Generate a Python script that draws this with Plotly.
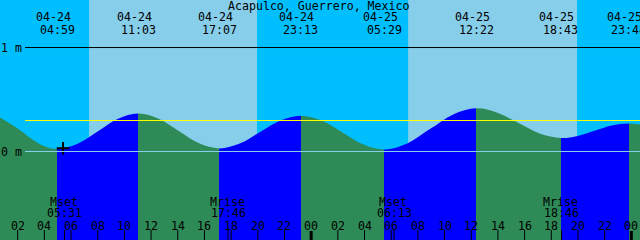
import plotly.graph_objects as go

# ---------------- data ----------------
station = "Acapulco, Guerrero, Mexico"
window_hours = [0.675, 48.65]          # hours since 04-24 00:00
level_range_m = [-0.851, 1.457]
day_labels = ["04-24", "04-25"]

# tide extremes
tide_dates = ["04-24", "04-24", "04-24", "04-24", "04-25", "04-25", "04-25", "04-25"]
tide_times = ["04:59", "11:03", "17:07", "23:13", "05:29", "12:22", "18:43", "23:48"]
tide_kinds = ["low", "high", "low", "high", "low", "high", "low", "high"]

# tide curve samples (hour, level m)
curve_hours = [0.675, 2.0, 3.0, 4.0, 4.983, 6.50, 8.02, 9.53, 11.05, 12.57, 14.08, 15.60,
               17.117, 18.65, 20.17, 21.70, 23.217, 24.79, 26.35, 27.92, 29.483, 31.20,
               32.93, 34.65, 36.367, 37.96, 39.55, 41.13, 42.717, 43.99, 45.26, 46.53,
               47.80, 48.65]
curve_levels = [0.327, 0.221, 0.125, 0.051, 0.025, 0.075, 0.195, 0.315, 0.365, 0.316, 0.198,
                0.079, 0.030, 0.076, 0.188, 0.299, 0.345, 0.298, 0.183, 0.068, 0.020, 0.078,
                0.218, 0.357, 0.415, 0.373, 0.273, 0.172, 0.130, 0.150, 0.200, 0.250,
                0.270, 0.259]

# daylight
sunrise_hours = [7.35, 31.27]
sunset_hours = [19.94, 43.93]

# moon events
moon_names = ["Mset", "Mrise", "Mset", "Mrise"]
moon_dates = ["04-24", "04-24", "04-25", "04-25"]
moon_times = ["05:31", "17:46", "06:13", "18:46"]

# reference levels
datum_level = 0.0
mean_level = 0.298
one_metre = 1.0
axis_labels = ["1 m", "0 m"]

# marker "+"
mark_hour = 5.4
mark_level = 0.031

# hour ticks
hour_ticks = list(range(2, 49, 2))
hour_tick_labels = ["%02d" % (h % 24) for h in hour_ticks]

# ---------------- helpers ----------------
W, H = 640, 240
FONT = "DejaVu Sans Mono"
FS = 11.6
NIGHT = "#00BFFF"
DAY = "#87CEEB"
FALL = "#2E8B57"
RISE = "#0000FF"


def to_hours(date, hhmm):
    day = day_labels.index(date)
    hh, mm = hhmm.split(":")
    return day * 24 + int(hh) + int(mm) / 60.0


tide_hours = [to_hours(d, t) for d, t in zip(tide_dates, tide_times)]
moon_hours = [to_hours(d, t) for d, t in zip(moon_dates, moon_times)]
t0, t1 = window_hours
span = t1 - t0


def hour_to_px(h):
    return (h - t0) / span * W


fig = go.Figure()

# main (invisible) subplot for shapes/annotations
fig.add_trace(go.Scatter(x=[t0], y=[0], mode="markers", marker=dict(opacity=0),
                         hoverinfo="skip", xaxis="x", yaxis="y"))

# water segments, each clipped by its own x-domain
bounds = [t0] + tide_hours + [t1]
layout_axes = {}
mark_axis = None
for i in range(len(bounds) - 1):
    ax = "x%d" % (i + 2)
    p0 = round(hour_to_px(bounds[i]))
    p1 = round(hour_to_px(bounds[i + 1]))
    d0, d1 = p0 / W, p1 / W
    # colour: rising if segment ends at a high
    if i < len(tide_kinds):
        col = RISE if tide_kinds[i] == "high" else FALL
    else:
        col = RISE if tide_kinds[-1] == "low" else FALL
    layout_axes["xaxis%d" % (i + 2)] = dict(domain=[d0, d1], range=[t0 + d0 * span, t0 + d1 * span],
                                            visible=False, anchor="y", fixedrange=True)
    fig.add_trace(go.Scatter(x=[t0, t1], y=[level_range_m[0] - 0.3] * 2, mode="lines",
                             line=dict(width=0), hoverinfo="skip", xaxis=ax, yaxis="y"))
    fig.add_trace(go.Scatter(x=curve_hours, y=curve_levels, mode="lines",
                             line=dict(width=0, shape="spline", color=col),
                             fill="tonexty", fillcolor=col, hoverinfo="skip",
                             xaxis=ax, yaxis="y"))
    if bounds[i] <= mark_hour < bounds[i + 1]:
        mark_axis = ax

fig.add_trace(go.Scatter(x=[mark_hour], y=[mark_level], mode="markers",
                         marker=dict(symbol="cross-thin", size=9, line=dict(width=2, color="black")),
                         cliponaxis=False, hoverinfo="skip", xaxis=mark_axis, yaxis="y"))

shapes = []
# daylight
for sr, ss in zip(sunrise_hours, sunset_hours):
    shapes.append(dict(type="rect", xref="x", yref="paper", x0=sr, x1=ss, y0=0, y1=1,
                       fillcolor=DAY, line=dict(width=0), layer="below"))
# level lines
line_x0 = 25 / W
for lvl, col in [(one_metre, "black"), (datum_level, DAY), (mean_level, "#FFFF00")]:
    shapes.append(dict(type="line", xref="paper", yref="y", x0=line_x0, x1=1, y0=lvl, y1=lvl,
                       line=dict(color=col, width=1), layer="above"))
# hour ticks
for h in hour_ticks:
    midnight = h % 24 == 0
    shapes.append(dict(type="line", xref="x", yref="paper", x0=h, x1=h, y0=0,
                       y1=(9 if midnight else 10) / H,
                       line=dict(color="black", width=3 if midnight else 1), layer="above"))
for h in moon_hours:
    shapes.append(dict(type="line", xref="x", yref="paper", x0=h, x1=h, y0=0, y1=10 / H,
                       line=dict(color="black", width=1), layer="above"))


def py(pix):
    return 1 - pix / H


ann = []
font = dict(family=FONT, size=FS, color="black")
ann.append(dict(text=station, xref="paper", yref="paper", x=319 / W, y=py(5.5),
                xanchor="center", yanchor="middle", showarrow=False, font=font))
for h, d, t in zip(tide_hours, tide_dates, tide_times):
    ann.append(dict(text=d, xref="x", yref="paper", x=h, y=py(17.5), xshift=-4,
                    xanchor="center", yanchor="middle", showarrow=False, font=font))
    ann.append(dict(text=t, xref="x", yref="paper", x=h, y=py(29.5),
                    xanchor="center", yanchor="middle", showarrow=False, font=font))
for h, n, t in zip(moon_hours, moon_names, moon_times):
    ann.append(dict(text=n, xref="x", yref="paper", x=h, y=py(201.5), xshift=-1,
                    xanchor="center", yanchor="middle", showarrow=False, font=font))
    ann.append(dict(text=t, xref="x", yref="paper", x=h, y=py(213),
                    xanchor="center", yanchor="middle", showarrow=False, font=font))
for h, lab in zip(hour_ticks, hour_tick_labels):
    ann.append(dict(text=lab, xref="x", yref="paper", x=h, y=py(226),
                    xanchor="center", yanchor="middle", showarrow=False, font=font))
for lab, lvl in zip(axis_labels, [one_metre, datum_level]):
    ann.append(dict(text=lab, xref="paper", yref="y", x=0, y=lvl, xshift=-1,
                    xanchor="left", yanchor="middle", showarrow=False, font=font))

fig.update_layout(
    width=W, height=H, margin=dict(l=0, r=0, t=0, b=0, pad=0),
    paper_bgcolor=NIGHT, plot_bgcolor="rgba(0,0,0,0)", showlegend=False,
    xaxis=dict(range=window_hours, visible=False, fixedrange=True, domain=[0, 1]),
    yaxis=dict(range=level_range_m, visible=False, fixedrange=True, domain=[0, 1]),
    shapes=shapes, annotations=ann, **layout_axes,
)
fig.write_html("out.html", config={"displayModeBar": False})
